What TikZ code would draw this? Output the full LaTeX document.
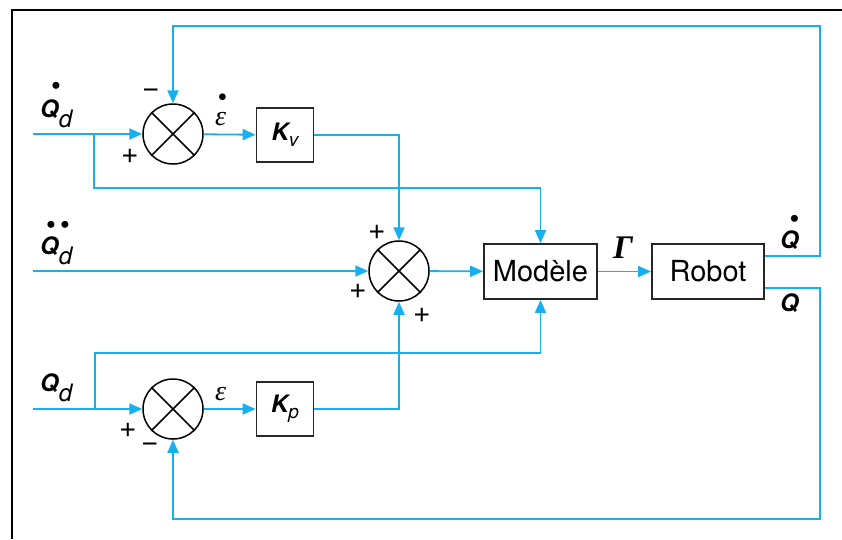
\documentclass[tikz,border=0pt]{standalone}
\usepackage{fontspec}
\setmainfont{TeX Gyre Heros}
\newfontfamily\grfont{Liberation Serif}
\usetikzlibrary{arrows.meta}
\definecolor{cy}{RGB}{20,176,240}
\newcommand{\hdot}[2]{\makebox[0pt][l]{\kern#1\raisebox{#2}{\fontsize{28}{28}\selectfont\mdseries\upshape\textbullet}}}
\newcommand{\subd}[1]{\raisebox{-10pt}{\fontsize{24}{24}\selectfont\mdseries\itshape #1}}
\begin{document}
\begin{tikzpicture}[x=1pt,y=-1pt,
  sig/.style={draw=cy,line width=1.8pt},
  arr/.style={sig,-{Triangle[length=13pt,width=11pt]}},
  sumj/.style={circle,draw,line width=1.5pt,minimum size=60pt,inner sep=0pt},
  blk/.style={draw=black!85,line width=1.8pt,inner sep=0pt},
  lab/.style={font=\fontsize{24}{26}\selectfont\bfseries\itshape,inner sep=0pt},
  sgn/.style={font=\fontsize{30}{32}\selectfont,inner sep=0pt},
  eps/.style={font=\fontsize{28}{30}\selectfont\grfont\itshape,inner sep=0pt},
  txt/.style={font=\fontsize{29}{31}\selectfont}]
\useasboundingbox (0,0) rectangle (842,539);
% frame
\draw[line width=2.5pt] (12,539) -- (12,10) -- (842,10);
% summing junctions
\node[sumj] (s1) at (173,134) {};
\node[sumj] (s2) at (399,271) {};
\node[sumj] (s3) at (173,409) {};
\foreach \s in {s1,s2,s3}{\draw[line width=1.5pt] (\s.45)--(\s.225) (\s.135)--(\s.315);}
% blocks
\node[blk,minimum width=57pt,minimum height=54pt] (kv) at (285,135)
  {\fontsize{24}{26}\selectfont\bfseries\itshape K\raisebox{-6pt}{\fontsize{19}{20}\selectfont\mdseries\itshape v}};
\node[blk,minimum width=57pt,minimum height=54pt] (kp) at (285,409)
  {\fontsize{24}{26}\selectfont\bfseries\itshape K\raisebox{-6pt}{\fontsize{19}{20}\selectfont\mdseries\itshape p}};
\node[blk,txt,minimum width=113pt,minimum height=55pt] (mod) at (540.5,271.5) {Modèle};
\node[blk,txt,minimum width=112pt,minimum height=55pt] (rob) at (708,271.5) {Robot};
% input coordinates
\coordinate (in1) at (33,134);
\coordinate (in2) at (33,271);
\coordinate (in3) at (33,409);
\coordinate (b1) at (94,134);
\coordinate (b3) at (95,409);
\coordinate (r1) at (820,256);
\coordinate (r2) at (820,288);
% signals
\draw[arr] (in1) -- (s1);
\draw[arr] (b1) -- (94,188) -| (mod.north);
\draw[arr] (s1) -- (kv);
\draw[arr] (kv.east) -| (s2.north);
\draw[arr] (in2) -- (s2);
\draw[arr] (s2) -- (mod);
\draw[arr] (mod) -- (rob);
\draw[arr] (rob.east |- r1) -- (r1) -- (820,26) -| (s1.north);
\draw[arr] (rob.east |- r2) -- (r2) -- (820,519) -| (s3.south);
\draw[arr] (in3) -- (s3);
\draw[arr] (b3) -- (95,353) -| (mod.south);
\draw[arr] (s3) -- (kp);
\draw[arr] (kp.east) -| (s2.south);
% labels
\node[lab,anchor=base west] (l1) at (40,117) {\hdot{11pt}{22pt}Q\subd{d}};
\node[lab,anchor=base west] (l2) at (40,254) {\hdot{6pt}{19.5pt}\hdot{20pt}{19.5pt}Q\subd{d}};
\node[lab,anchor=base west] (l3) at (40,391) {Q\subd{d}};
\node[eps,anchor=base west] (e1) at (215,125) {\hdot{2.5pt}{19pt}ε};
\node[eps,anchor=base west] (e2) at (215,400) {ε};
\node[anchor=base,inner sep=0pt,font=\fontsize{33}{34}\selectfont\grfont\bfseries\itshape] (g) at (623,258) {Γ};
\node[lab,anchor=base west] (qd) at (780,248) {\hdot{9.5pt}{20pt}Q};
\node[lab,anchor=base west] (q) at (780,311) {Q};
% signs
\node[sgn] at (151,93) {−};
\node[sgn] at (130,156) {+};
\node[sgn] at (377,232) {+};
\node[sgn] at (358,291) {+};
\node[sgn] at (422,315) {+};
\node[sgn] at (128,430) {+};
\node[sgn] at (150,447) {−};
\end{tikzpicture}
\end{document}
